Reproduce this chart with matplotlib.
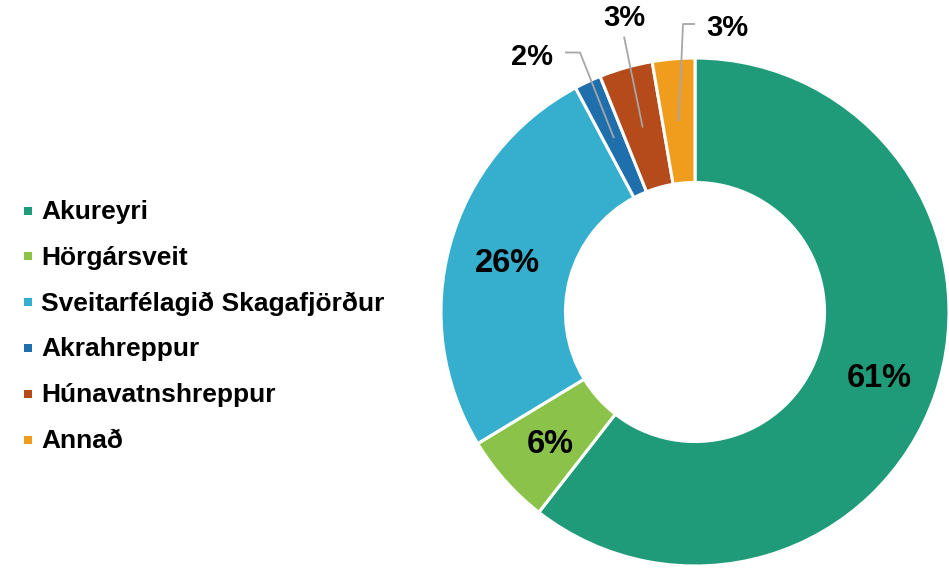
import matplotlib
matplotlib.use('Agg')
import matplotlib.pyplot as plt
import numpy as np

categories = ['Akureyri', 'Hörgársveit', 'Sveitarfélagið Skagafjörður',
              'Akrahreppur', 'Húnavatnshreppur', 'Annað']
shares = [60.6, 5.8, 25.9, 1.7, 3.4, 2.7]
pct_labels = ['61%', '6%', '26%', '2%', '3%', '3%']
colors = ['#1F9B79', '#8BC34A', '#36AFCF', '#1F6FAD', '#B54A1A', '#F09D1E']

plt.rcParams['font.family'] = ['Liberation Sans', 'DejaVu Sans']

W, H = 949, 570
CX, CY, R = 695, 312, 254

fig = plt.figure(figsize=(W / 100, H / 100), dpi=100)
ax = fig.add_axes([0, 0, 1, 1])


def px(x, y):
    return ((x - CX) / R, (CY - y) / R)


wedges, _ = ax.pie(shares, colors=colors, startangle=90, counterclock=False,
                   radius=1, wedgeprops=dict(width=0.49, edgecolor='white', linewidth=2.2))
ax.set_xlim(-CX / R, (W - CX) / R)
ax.set_ylim(-(H - CY) / R, CY / R)
ax.set_aspect('auto')
ax.axis('off')

mids = [np.deg2rad((w.theta1 + w.theta2) / 2) for w in wedges]

# inner labels
for i in (0, 1, 2):
    r = 0.765
    x, y = r * np.cos(mids[i]), r * np.sin(mids[i])
    ax.text(x, y - 11.5 / R, pct_labels[i], ha='center', va='baseline',
            fontsize=23.5, fontweight='bold', color='black')

# outer labels with leader lines
lead_col = '#A6A6A6'
outer = {
    3: dict(text=(532.5, 65), path=[(565, 52.5), (580, 52.5)]),
    4: dict(text=(624.5, 26.5), path=[(624, 36.5)]),
    5: dict(text=(727, 36.5), path=[(695, 24), (683, 24)]),
}
for i, spec in outer.items():
    ax_pt = (0.755 * np.cos(mids[i]), 0.755 * np.sin(mids[i]))
    pts = [px(*p) for p in spec['path']] + [ax_pt]
    xs, ys = zip(*pts)
    ax.plot(xs, ys, color=lead_col, lw=1.3, solid_capstyle='butt')
    tx, ty = px(*spec['text'])
    ax.text(tx, ty, pct_labels[i], ha='center', va='baseline',
            fontsize=21, fontweight='bold', color='black')

# legend
row0, step = 210.5, 45.8
for i, (cat, col) in enumerate(zip(categories, colors)):
    yc = row0 + i * step
    mx, my = px(28, yc)
    ax.plot([mx], [my], marker='s', markersize=5.2, color=col, markeredgewidth=0)
    tx, ty = px(41, yc + 8.5)
    ax.text(tx, ty, cat, ha='left', va='baseline', fontsize=19,
            fontweight='bold', color='black')

fig.savefig('out.png', dpi=100)
